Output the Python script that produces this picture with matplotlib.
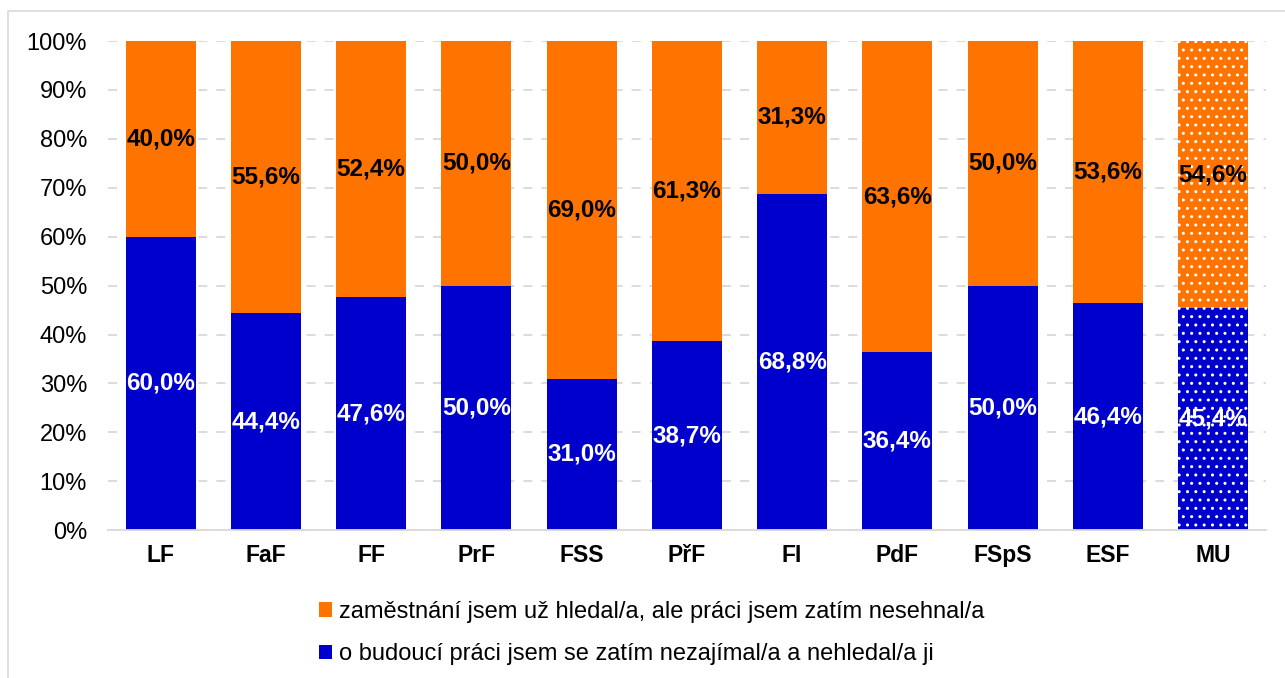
import numpy as np
import matplotlib.pyplot as plt
from matplotlib.patches import Rectangle

# data
fakulty = ["LF", "FaF", "FF", "PrF", "FSS", "PřF", "FI", "PdF", "FSpS", "ESF", "MU"]
nezajimal = [60.0, 44.4, 47.6, 50.0, 31.0, 38.7, 68.8, 36.4, 50.0, 46.4, 45.4]
hledal = [40.0, 55.6, 52.4, 50.0, 69.0, 61.3, 31.3, 63.6, 50.0, 53.6, 54.6]
leg_hledal = "zaměstnání jsem už hledal/a, ale práci jsem zatím nesehnal/a"
leg_nezajimal = "o budoucí práci jsem se zatím nezajímal/a a nehledal/a ji"

oranzova = "#FF7400"
modra = "#0000CC"

plt.rcParams["font.family"] = ["Liberation Sans", "DejaVu Sans"]
plt.rcParams["hatch.linewidth"] = 1.0

fig = plt.figure(figsize=(12.85, 6.78), dpi=100)
ax = fig.add_axes([0.084, 0.218, 0.901, 0.7215])

# ramecek grafu
fig.patches.append(Rectangle((0.006, -0.05), 1.2, 1.034, transform=fig.transFigure,
                             fill=False, edgecolor="#D9D9D9", linewidth=1.2))

x = np.arange(len(fakulty))
w = 0.665
b1 = ax.bar(x, nezajimal, w, color=modra, label=leg_nezajimal, zorder=2)
b2 = ax.bar(x, hledal, w, bottom=nezajimal, color=oranzova, label=leg_hledal, zorder=2)

# MU s teckovanym vzorem
for b in (b1[-1], b2[-1]):
    b.set_hatch("..")
    b.set_edgecolor("white")
    b.set_linewidth(0)

for i in range(len(fakulty)):
    ax.text(x[i], nezajimal[i] / 2, f"{nezajimal[i]:.1f}%".replace(".", ","),
            ha="center", va="center", color="white", fontsize=17.5, fontweight="bold", zorder=3)
    ax.text(x[i], nezajimal[i] + hledal[i] / 2, f"{hledal[i]:.1f}%".replace(".", ","),
            ha="center", va="center", color="black", fontsize=17.5, fontweight="bold", zorder=3)

ax.set_xlim(-0.5, len(fakulty) - 0.5)
ax.set_ylim(0, 100)
ax.set_yticks(np.arange(0, 101, 10))
ax.set_yticklabels([f"{v}%" for v in range(0, 101, 10)], fontsize=17)
ax.set_xticks(x)
ax.set_xticklabels(fakulty, fontsize=16.5, fontweight="bold")
ax.tick_params(axis="y", length=0, pad=15)
ax.tick_params(axis="x", length=0, pad=10)
ax.yaxis.grid(True, color="#D9D9D9", linestyle=(0, (5, 5)), linewidth=1.3, zorder=0)
for s in ["top", "right", "left"]:
    ax.spines[s].set_visible(False)
ax.spines["bottom"].set_color("#D9D9D9")
ax.spines["bottom"].set_linewidth(1.3)

handles = [b2, b1]
leg = fig.legend(handles, [leg_hledal, leg_nezajimal], loc="upper left",
                 bbox_to_anchor=(0.232, 0.145), ncol=1, frameon=False, fontsize=17,
                 handlelength=0.55, handleheight=0.55, handletextpad=0.3, labelspacing=0.85)
for h in leg.legend_handles:
    h.set_hatch(None)
    h.set_linewidth(0)

fig.savefig("out.png", dpi=100)
